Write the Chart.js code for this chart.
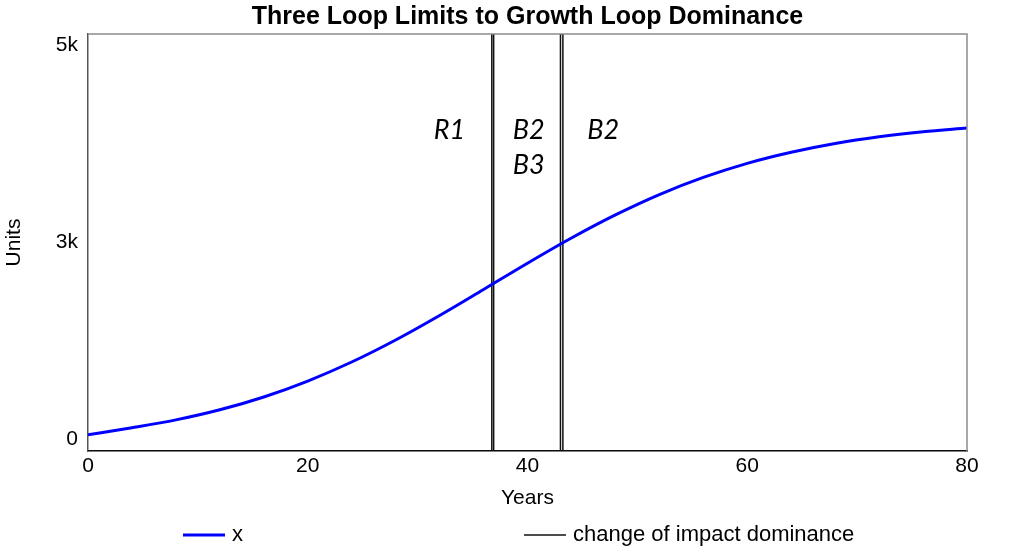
<!DOCTYPE html>
<html>
<head>
<meta charset="utf-8">
<script src="https://cdn.jsdelivr.net/npm/chart.js@4.4.1/dist/chart.umd.min.js"></script>
<style>
  html, body { margin: 0; padding: 0; background: #fff; }
  #wrap { width: 1024px; height: 552px; }
</style>
</head>
<body>
<div id="wrap"><canvas id="chart"></canvas></div>
<script>
// simulated stock x over time
const years = [0, 4, 8, 12, 16, 20, 24, 28, 32, 36, 40, 44, 48, 52, 56, 60, 64, 68, 72, 76, 80];
const xValues = [195, 279, 373, 494, 648, 839, 1067, 1331, 1625, 1937, 2252, 2554, 2831, 3075, 3280, 3449, 3582, 3687, 3767, 3827, 3872];

// pulses marking a change of impact dominance
const dominanceYears = [0, 36.75, 36.75, 36.92, 36.92, 43.0, 43.0, 43.22, 43.22, 80];
const dominanceValues = [0, 0, 5000, 5000, 0, 0, 5000, 5000, 0, 0];

const yTickValues = [0, 2500, 5000];
const yTickLabels = ['0', '3k', '5k'];

// dominant loop labels, placed in data units
const loopLabels = ['R1', 'B2', 'B3', 'B2'];
const loopYears = [32.9, 40.1, 40.1, 46.9];
const loopLevels = [3850, 3850, 3430, 3850];

const chartTitle = 'Three Loop Limits to Growth Loop Dominance';
const font = 'Liberation Sans';

const extras = {
    id: 'extras',
    afterDatasetsDraw(chart) {
        const ctx = chart.ctx;
        const a = chart.chartArea;
        const x = chart.scales.x;
        const y = chart.scales.y;
        ctx.save();
        ctx.strokeStyle = '#8c8c8c';
        ctx.lineWidth = 1.5;
        ctx.beginPath();
        ctx.moveTo(a.left, a.top);
        ctx.lineTo(a.right, a.top);
        ctx.lineTo(a.right, a.bottom);
        ctx.stroke();

        ctx.fillStyle = '#000';
        ctx.font = 'italic 27px Lato';
        ctx.textAlign = 'center';
        ctx.textBaseline = 'middle';
        loopLabels.forEach((t, i) => {
            ctx.fillText(t, x.getPixelForValue(loopYears[i]), y.getPixelForValue(loopLevels[i]));
        });
        ctx.restore();
    },
    afterDraw(chart) {
        const ctx = chart.ctx;
        const a = chart.chartArea;
        ctx.save();
        // title centred over the plot frame
        ctx.fillStyle = '#000';
        ctx.font = 'bold 25px ' + font;
        ctx.textAlign = 'center';
        ctx.textBaseline = 'middle';
        ctx.fillText(chartTitle, (a.left + a.right) / 2, 17);

        // legend laid out wide like the original
        const starts = [183, 524];
        const ly = 535;
        ctx.font = '22px ' + font;
        ctx.textAlign = 'left';
        chart.data.datasets.forEach((ds, i) => {
            ctx.strokeStyle = ds.borderColor;
            ctx.lineWidth = ds.borderWidth;
            ctx.beginPath();
            ctx.moveTo(starts[i], ly);
            ctx.lineTo(starts[i] + 42, ly);
            ctx.stroke();
            ctx.fillStyle = '#000';
            ctx.fillText(ds.label, starts[i] + 49, ly);
        });
        ctx.restore();
    }
};

new Chart(document.getElementById('chart'), {
    type: 'line',
    data: {
        datasets: [{
            label: 'x',
            data: years.map((t, i) => ({x: t, y: xValues[i]})),
            borderColor: 'rgb(0, 0, 255)',
            borderWidth: 3,
            pointRadius: 0,
            cubicInterpolationMode: 'monotone'
        }, {
            label: 'change of impact dominance',
            data: dominanceYears.map((t, i) => ({x: t, y: dominanceValues[i]})),
            borderColor: '#111',
            borderWidth: 1.5,
            pointRadius: 0,
            tension: 0
        }]
    },
    options: {
        responsive: true,
        maintainAspectRatio: false,
        animation: false,
        layout: { padding: { top: 34, right: 57, bottom: 0, left: 0 } },
        plugins: {
            legend: { display: false },
            tooltip: { enabled: false },
            title: { display: false }
        },
        scales: {
            x: {
                type: 'linear',
                min: 0,
                max: 80,
                ticks: { stepSize: 20, color: '#000', font: { family: font, size: 21 }, padding: 3, maxRotation: 0 },
                grid: { display: false, drawTicks: false },
                border: { display: true, color: '#000', width: 1.5 },
                title: { display: true, text: 'Years', color: '#000', font: { family: font, size: 21 }, padding: { top: 0, bottom: 41 } },
                afterFit: (s) => { s.height = 101; }
            },
            y: {
                min: 0,
                max: 5000,
                afterBuildTicks: (s) => {
                    s.ticks = yTickValues.map(v => ({ value: v + (2500 - v) * 0.055 }));
                },
                ticks: {
                    color: '#000',
                    font: { family: font, size: 21 },
                    padding: 10,
                    callback: (v, i) => yTickLabels[i]
                },
                grid: { display: false, drawTicks: false },
                border: { display: true, color: '#555', width: 1.5 },
                title: { display: true, text: 'Units', color: '#000', font: { family: font, size: 21 }, padding: { top: 2, bottom: 0 } },
                afterFit: (s) => { s.width = 88; }
            }
        }
    },
    plugins: [extras]
});
</script>
</body>
</html>
